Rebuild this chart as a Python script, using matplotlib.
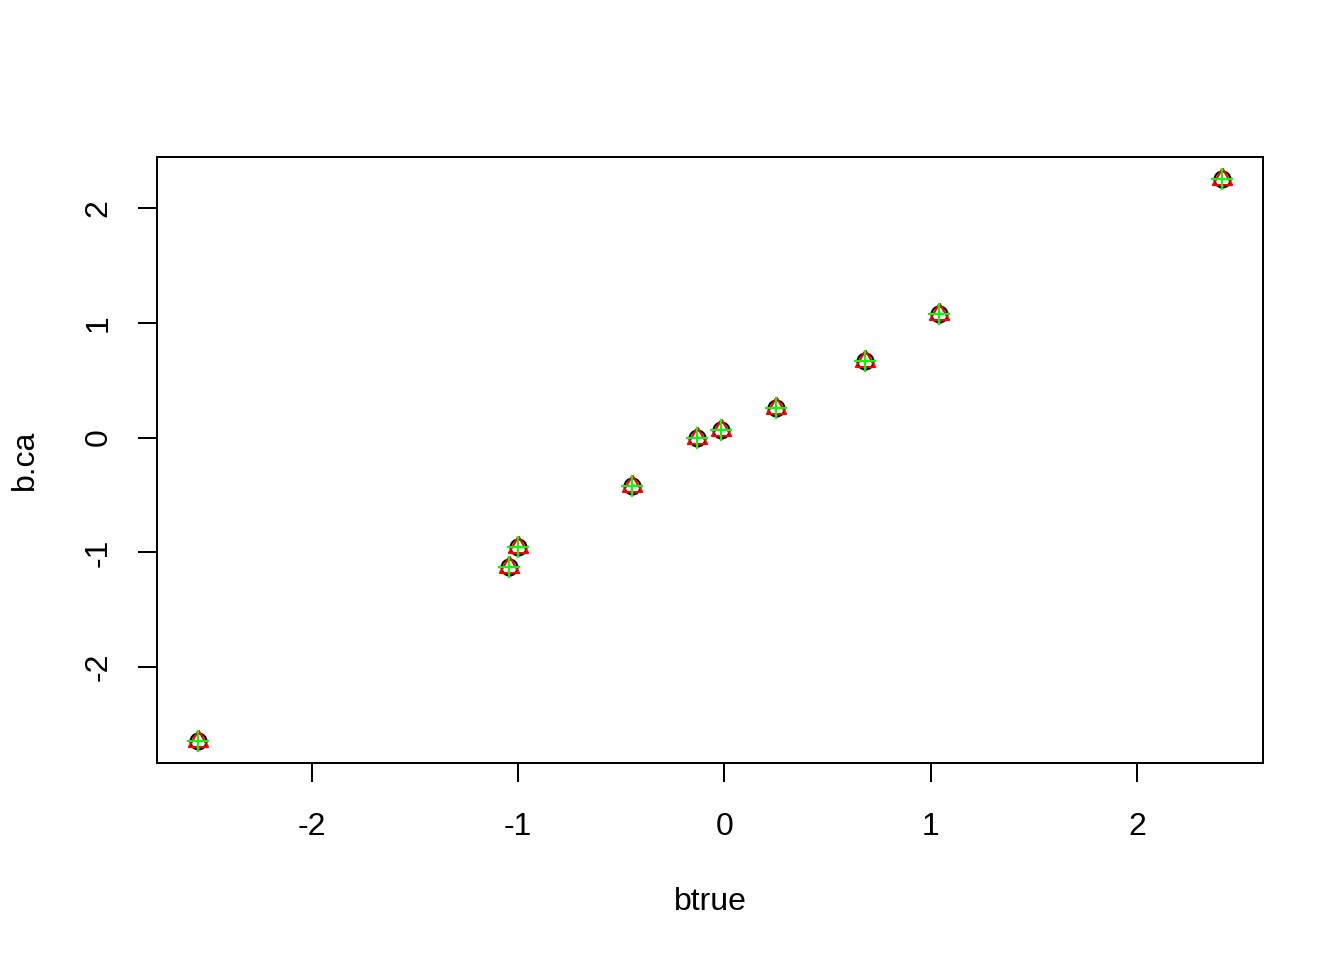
import matplotlib
matplotlib.use("Agg")
import matplotlib.pyplot as plt

# values
btrue = [-2.553, -1.044, -1.000, -0.447, -0.131, -0.019, 0.248, 0.684, 1.039, 2.413]
b_ca = [-2.64, -1.124, -0.95, -0.418, 0.0, 0.07, 0.26, 0.67, 1.08, 2.25]
x_ticks = [-2, -1, 0, 1, 2]
y_ticks = [-2, -1, 0, 1, 2]

plt.rcParams['font.family'] = ['Liberation Sans', 'DejaVu Sans']
plt.rcParams['font.size'] = 12

fig = plt.figure(figsize=(7, 5), dpi=192)
ax = fig.add_axes([157 / 1344, 1 - 763 / 960, (1263 - 157) / 1344, (763 - 157) / 960])

# R-like pch shapes: open circle, equilateral triangle, plus
tri = [(0, 1), (-0.866, -0.5), (0.866, -0.5), (0, 1)]
ax.plot(btrue, b_ca, linestyle='none', marker='o', markersize=6,
        markerfacecolor='none', markeredgecolor='black', markeredgewidth=0.8)
ax.plot(btrue, b_ca, linestyle='none', marker=tri, markersize=8.3,
        markerfacecolor='none', markeredgecolor='red', markeredgewidth=0.8)
ax.plot(btrue, b_ca, linestyle='none', marker='+', markersize=8.6,
        markeredgecolor='#00ff00', markeredgewidth=0.8)

# 4% padding like R
xr = max(btrue) - min(btrue)
yr = max(b_ca) - min(b_ca)
ax.set_xlim(min(btrue) - 0.04 * xr, max(btrue) + 0.04 * xr)
ax.set_ylim(min(b_ca) - 0.04 * yr, max(b_ca) + 0.04 * yr)

ax.set_xticks(x_ticks)
ax.set_xticklabels([str(t) for t in x_ticks])
ax.set_yticks(y_ticks)
ax.set_yticklabels([str(t) for t in y_ticks], rotation=90, va='center')
ax.tick_params(direction='out', length=7.2, width=0.75, labelsize=12)
ax.tick_params(axis='x', pad=11)
ax.tick_params(axis='y', pad=9)

for s in ax.spines.values():
    s.set_linewidth(0.75)

fig.text(710 / 1344, 1 - 902 / 960, "btrue", ha='center', va='center', fontsize=12)
fig.text(25 / 1344, 1 - 460 / 960, "b.ca", ha='center', va='center', rotation=90, fontsize=12)

fig.savefig("out.png", dpi=192)
